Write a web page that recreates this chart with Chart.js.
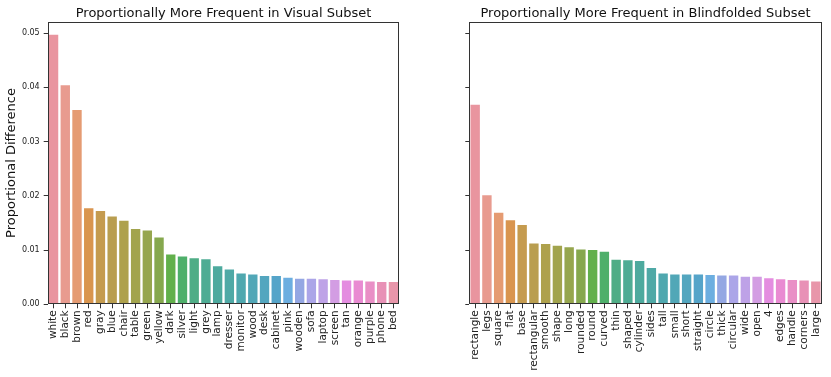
<!DOCTYPE html>
<html>
<head>
<meta charset="utf-8">
<script src="https://cdn.jsdelivr.net/npm/chart.js@4"></script>
<style>
  html, body { margin: 0; padding: 0; background: #fff; }
  #wrap { position: relative; width: 831px; height: 377px; }
  canvas { position: absolute; top: 0; }
</style>
</head>
<body>
<div id="wrap">
  <canvas id="visual" width="410" height="377" style="left:0"></canvas>
  <canvas id="blind" width="411" height="377" style="left:420px"></canvas>
</div>
<script>
// ── Data ───────────────────────────────────────────────────────────
const visualWords = ["white","black","brown","red","gray","blue","chair","table","green","yellow",
  "dark","silver","light","grey","lamp","dresser","monitor","wood","desk","cabinet",
  "pink","wooden","sofa","laptop","screen","tan","orange","purple","phone","bed"]
const visualDiff = [0.0497,0.0404,0.0358,0.0177,0.0172,0.0162,0.0154,0.0139,0.0136,0.0123,
  0.0092,0.0088,0.0085,0.0083,0.0070,0.0064,0.0057,0.0055,0.0052,0.0052,
  0.0049,0.0047,0.0047,0.0046,0.0045,0.0044,0.0044,0.0042,0.0041,0.0041]

const blindWords = ["rectangle","legs","square","flat","base","rectangular","smooth","shape","long","rounded",
  "round","curved","thin","shaped","cylinder","sides","tall","small","short","straight",
  "circle","thick","circular","wide","open","4","edges","handle","corners","large"]
const blindDiff = [0.0368,0.0201,0.0169,0.0155,0.0146,0.0112,0.0111,0.0108,0.0105,0.0101,
  0.0100,0.0097,0.0082,0.0081,0.0080,0.0067,0.0057,0.0055,0.0055,0.0055,
  0.0054,0.0053,0.0053,0.0051,0.0051,0.0048,0.0046,0.0045,0.0044,0.0042]

const yTicks = [0, 0.01, 0.02, 0.03, 0.04, 0.05]

// seaborn-style husl palette, 30 steps
const palette = ["#e9959f","#e89b8f","#e59b72","#d9954f","#c59b4f","#b99e50","#aea14c","#a2a44d","#96a64e","#86a84e",
  "#62b04c","#4eaf6a","#4fad86","#4eac94","#4daa9e","#4fa9a6","#4fa8af","#51a7b7","#53a6bf","#55a4c9",
  "#6caee0","#94a7e3","#aba5e8","#bea2e7","#d39de3","#e48de0","#e98bd2","#e98fc6","#e891b6","#e896aa"]

const FONT = "'DejaVu Sans', sans-serif"
const INK = "#222"

// ── Box around plot area + title centred over it ──────────────────
const frame = {
  id: "frame",
  afterDatasetsDraw(chart, args, o) {
    const { ctx, chartArea: a } = chart
    ctx.save()
    ctx.strokeStyle = "#333"
    ctx.lineWidth = 1
    const l = Math.round(a.left) + 0.5, t = Math.round(a.top) + 0.5
    const r = Math.round(a.right) - 0.5, b = Math.round(a.bottom) - 0.5
    ctx.strokeRect(l, t, r - l, b - t)
    // title
    ctx.fillStyle = "#111"
    ctx.font = `13px ${FONT}`
    ctx.textAlign = "center"
    ctx.textBaseline = "alphabetic"
    ctx.fillText(o.text, (a.left + a.right) / 2, a.top - 5)
    ctx.restore()
  }
}

function makeChart(id, title, labels, values, opts) {
  return new Chart(document.getElementById(id), {
    type: "bar",
    data: {
      labels,
      datasets: [{
        data: values,
        backgroundColor: palette.slice(0, labels.length),
        borderWidth: 0,
        barPercentage: 0.8,
        categoryPercentage: 1.0,
      }]
    },
    plugins: [frame],
    options: {
      responsive: false,
      animation: false,
      layout: { padding: { left: 0, right: opts.padRight, top: 21.7, bottom: 0 } },
      plugins: {
        legend: { display: false },
        tooltip: { enabled: false },
        title: { display: false },
        frame: { text: title }
      },
      scales: {
        x: {
          offset: true,
          afterFit: s => { s.height = 72.7 },
          grid: { display: true, drawOnChartArea: false, offset: false, tickLength: 4, color: "#333" },
          border: { display: false },
          ticks: {
            autoSkip: false,
            minRotation: 90,
            maxRotation: 90,
            padding: 2,
            color: INK,
            font: { family: FONT, size: 10.5 }
          }
        },
        y: {
          min: 0,
          max: 0.0521,
          afterFit: s => { s.width = opts.yWidth },
          afterBuildTicks: s => { s.ticks = yTicks.map(v => ({ value: v })) },
          grid: { display: true, drawOnChartArea: false, tickLength: 4, color: "#333" },
          border: { display: false },
          ticks: {
            includeBounds: false,
            padding: 4,
            color: INK,
            font: { family: FONT, size: 8 },
            callback: v => opts.showY ? Number(v).toFixed(2) : ""
          },
          title: {
            display: opts.showY,
            text: "Proportional Difference",
            color: "#111",
            font: { family: FONT, size: 13 },
            padding: { top: 4, bottom: 0 }
          }
        }
      }
    }
  })
}

makeChart("visual", "Proportionally More Frequent in Visual Subset", visualWords, visualDiff,
  { showY: true, yWidth: 47.7, padRight: 10.7 })
makeChart("blind", "Proportionally More Frequent in Blindfolded Subset", blindWords, blindDiff,
  { showY: false, yWidth: 49.3, padRight: 9.3 })
</script>
</body>
</html>
